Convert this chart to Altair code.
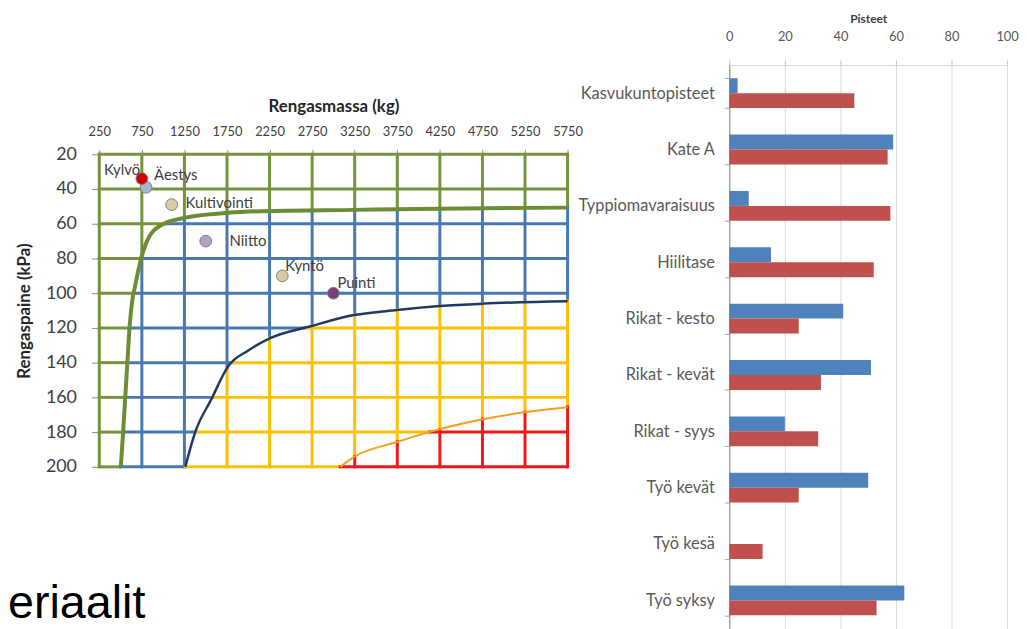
import altair as alt
import numpy as np
import pandas as pd

# ---------------- Left chart: tyre mass vs tyre pressure ----------------
MASS_TICKS = [250, 750, 1250, 1750, 2250, 2750, 3250, 3750, 4250, 4750, 5250, 5750]
PRESSURE_TICKS = [20, 40, 60, 80, 100, 120, 140, 160, 180, 200]

GREEN_CURVE_KG = [503, 530, 555, 580, 605, 635, 670, 736, 810, 969, 1260, 1765, 2255, 3245, 4250, 5750]
GREEN_CURVE_KPA = [200, 180, 160, 140, 120, 105, 96, 81, 70, 61, 56.5, 53.7, 52.6, 52.0, 51.3, 50.7]
BLUE_CURVE_KG = [1260, 1377, 1567, 1765, 2000, 2251, 2733, 3242, 3746, 4248, 4757, 5750]
BLUE_CURVE_KPA = [200, 180, 161, 142, 133, 126, 119, 112.6, 109.7, 107.4, 106, 104.6]
RED_CURVE_KG = [3082, 3242, 3746, 4248, 4757, 5238, 5750]
RED_CURVE_KPA = [200, 194.3, 185.7, 178.3, 172.6, 168.6, 165.7]

POINT_NAMES = ["Äestys", "Kylvö", "Kultivointi", "Niitto", "Kyntö", "Puinti"]
POINT_KG = [800, 750, 1100, 1500, 2400, 3000]
POINT_KPA = [39, 34, 49, 70, 90, 100]
POINT_COLORS = ["#A5B6CF", "#D00000", "#D9CBA3", "#B3A2C7", "#D9C9A0", "#7D3C7D"]

ZONES = ["vihreä", "sininen", "keltainen", "punainen"]
ZONE_COLORS = ["#76923C", "#4878B2", "#FFC000", "#F01818"]

BOTTOM_TEXT = "eriaalit"

# ---------------- Right chart: scores ----------------
CATEGORIES = ["Kasvukuntopisteet", "Kate A", "Typpiomavaraisuus", "Hiilitase",
              "Rikat - kesto", "Rikat - kevät", "Rikat - syys", "Työ kevät",
              "Työ kesä", "Työ syksy"]
SERIES = ["Sarja 1", "Sarja 2"]
BLUE_VALUES = [3, 59, 7, 15, 41, 51, 20, 50, 0, 63]
RED_VALUES = [45, 57, 58, 52, 25, 33, 32, 25, 12, 53]
SCORE_TICKS = [0, 20, 40, 60, 80, 100]


def zone_of(kg, kpa):
    if kg >= GREEN_CURVE_KG[0] and kpa > np.interp(kg, GREEN_CURVE_KG, GREEN_CURVE_KPA):
        if kg >= BLUE_CURVE_KG[0] and kpa > np.interp(kg, BLUE_CURVE_KG, BLUE_CURVE_KPA):
            if kg >= RED_CURVE_KG[0] and kpa > np.interp(kg, RED_CURVE_KG, RED_CURVE_KPA):
                return ZONES[3]
            return ZONES[2]
        return ZONES[1]
    return ZONES[0]


rows = []


def add_runs(fixed, start, end, step, vertical):
    edges = np.arange(start, end + step / 2, step)
    cur, run_start = None, start
    for a, b in zip(edges[:-1], edges[1:]):
        mid = (a + b) / 2
        z = zone_of(fixed, mid) if vertical else zone_of(mid, fixed)
        if z != cur:
            if cur is not None:
                rows.append((fixed, run_start, a, cur, vertical))
            cur, run_start = z, a
    rows.append((fixed, run_start, end, cur, vertical))


for kg in MASS_TICKS:
    add_runs(kg, PRESSURE_TICKS[0], PRESSURE_TICKS[-1], 0.5, True)
for kpa in PRESSURE_TICKS:
    add_runs(kpa, MASS_TICKS[0], MASS_TICKS[-1], 10, False)

seg_records = []
for fixed, a, b, z, vertical in rows:
    if vertical:
        seg_records.append({"x": fixed, "x2": fixed, "y": a, "y2": b, "zone": z})
    else:
        seg_records.append({"x": a, "x2": b, "y": fixed, "y2": fixed, "zone": z})
seg_df = pd.DataFrame(seg_records)

FONT = "Lato"

X_SCALE = alt.Scale(domain=[MASS_TICKS[0], MASS_TICKS[-1]], nice=False, zero=False)
Y_SCALE = alt.Scale(domain=[PRESSURE_TICKS[0], PRESSURE_TICKS[-1]], reverse=True, nice=False, zero=False)
X_AXIS = alt.Axis(orient="top", values=MASS_TICKS, format="d", title="Rengasmassa (kg)",
                  grid=False, domain=False, tickColor="#8C8C8C", tickSize=5,
                  labelPadding=11, labelFont=FONT, labelFontSize=13, labelColor="#404040",
                  labelOverlap=False, labelFlush=False,
                  titleFont=FONT, titleFontSize=17, titleFontWeight="bold",
                  titleColor="#262626", titlePadding=10)
Y_AXIS = alt.Axis(values=PRESSURE_TICKS, format="d", title="Rengaspaine (kPa)", grid=False,
                  domain=False, tickColor="#8C8C8C", tickSize=8, labelPadding=15,
                  labelOverlap=False, labelFlush=False, labelSeparation=0,
                  labelFont=FONT, labelFontSize=18, labelColor="#404040",
                  titleFont=FONT, titleFontSize=17, titleFontWeight="bold",
                  titleColor="#262626", titlePadding=12)


def xe():
    return alt.X("x:Q", scale=X_SCALE, axis=X_AXIS)


def ye():
    return alt.Y("y:Q", scale=Y_SCALE, axis=Y_AXIS)


grid_layer = alt.Chart(seg_df).mark_rule(strokeWidth=3, strokeCap="square").encode(
    x=xe(), x2="x2:Q", y=ye(), y2="y2:Q",
    color=alt.Color("zone:N", scale=alt.Scale(domain=ZONES, range=ZONE_COLORS), legend=None),
)


def curve(kg, kpa, color, width):
    df = pd.DataFrame({"x": kg, "y": kpa, "i": list(range(len(kg)))})
    return alt.Chart(df).mark_line(color=color, strokeWidth=width, interpolate="monotone").encode(
        x=xe(), y=ye(), order="i:Q")


green_line = curve(GREEN_CURVE_KG, GREEN_CURVE_KPA, "#6E8B35", 4)
blue_line = curve(BLUE_CURVE_KG, BLUE_CURVE_KPA, "#1F3A60", 2.5)
red_line = curve(RED_CURVE_KG, RED_CURVE_KPA, "#F0A020", 2)

pts_df = pd.DataFrame({"name": POINT_NAMES, "x": POINT_KG, "y": POINT_KPA})
points = alt.Chart(pts_df).mark_circle(size=140, opacity=1, stroke="#808080", strokeWidth=1).encode(
    x=xe(), y=ye(),
    color=alt.Color("name:N", scale=alt.Scale(domain=POINT_NAMES, range=POINT_COLORS), legend=None),
)

LABEL_STYLE = {
    "Kylvö": dict(dx=-20, dy=-9, align="center"),
    "Äestys": dict(dx=8, dy=-12, align="left"),
    "Kultivointi": dict(dx=14, dy=-2, align="left"),
    "Niitto": dict(dx=24, dy=0, align="left"),
    "Kyntö": dict(dx=3, dy=-10, align="left"),
    "Puinti": dict(dx=4, dy=-10, align="left"),
}
label_layers = []
for n in POINT_NAMES:
    st = LABEL_STYLE[n]
    label_layers.append(
        alt.Chart(pts_df).transform_filter(alt.datum.name == n).mark_text(
            font=FONT, fontSize=15, color="#404040", baseline="middle", **st
        ).encode(x=xe(), y=ye(), text="name:N")
    )

bottom_text = alt.Chart(pd.DataFrame({"t": [BOTTOM_TEXT]})).mark_text(
    align="left", baseline="alphabetic", font="Liberation Sans", fontSize=47, color="black"
).encode(x=alt.value(-92), y=alt.value(467), text="t:N")

left = alt.layer(grid_layer, green_line, blue_line, red_line, points, *label_layers, bottom_text).resolve_scale(
    color="independent").properties(width=472, height=315)

spacer = alt.Chart(pd.DataFrame({"a": [0]})).mark_point(opacity=0).encode(
    x=alt.value(0), y=alt.value(0)).properties(width=10, height=33)

left_col = alt.vconcat(spacer, left, spacing=0)

# ---------------- Right chart ----------------
bar_df = pd.DataFrame({
    "kategoria": CATEGORIES * 2,
    "sarja": [SERIES[0]] * len(CATEGORIES) + [SERIES[1]] * len(CATEGORIES),
    "arvo": BLUE_VALUES + RED_VALUES,
})
right = alt.Chart(bar_df).mark_bar().encode(
    y=alt.Y("kategoria:N", sort=CATEGORIES,
            scale=alt.Scale(paddingInner=0.47, paddingOuter=0.235),
            axis=alt.Axis(title=None, tickBand="extent", tickSize=5, tickColor="#A6A6A6",
                          domainColor="#868686", labelFont=FONT, labelFontSize=16.5,
                          labelColor="#595959", labelPadding=10, grid=False, labelLimit=220)),
    yOffset=alt.YOffset("sarja:N", sort=SERIES),
    x=alt.X("arvo:Q", scale=alt.Scale(domain=[0, 100], nice=False),
            axis=alt.Axis(orient="top", values=SCORE_TICKS, title="Pisteet", grid=True,
                          gridColor="#D9D9D9", domainColor="#D9D9D9", tickColor="#BFBFBF",
                          tickSize=5, labelPadding=17, labelFont=FONT, labelFontSize=13,
                          labelColor="#595959", labelFlush=False, labelOverlap=False,
                          titleFont=FONT, titleFontSize=12,
                          titleFontWeight="bold", titleColor="#404040", titlePadding=5)),
    color=alt.Color("sarja:N", scale=alt.Scale(domain=SERIES, range=["#4F81BD", "#C0504D"]), legend=None),
).properties(width=280, height=568)

chart = alt.hconcat(left_col, right, spacing=-6).resolve_scale(color="independent").properties(
    padding={"left": 0, "top": 2, "right": 0, "bottom": 0}
).configure_view(strokeWidth=0).configure_axis(labelOverlap=False)

chart.save("out.html", embed_options={"renderer": "svg", "actions": False})
